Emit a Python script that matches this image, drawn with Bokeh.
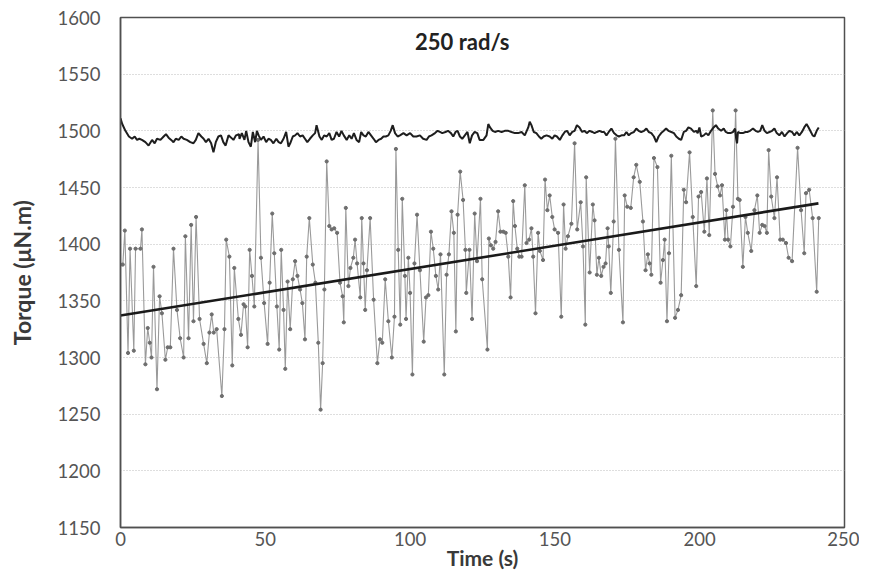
from bokeh.plotting import figure
from bokeh.models import Range1d, Label, FixedTicker
from bokeh.embed import file_html
from bokeh.resources import INLINE

# Raw torque samples (gray series): time (s), torque (uN.m)
raw_t = [0.0, 0.8, 1.5, 2.6, 3.3, 4.6, 5.2, 6.9, 7.4, 8.6, 9.4, 10.1, 10.7, 11.4, 12.6, 13.5, 14.3, 15.5, 16.3, 17.2,
         18.3, 19.5, 20.6, 21.8, 22.4, 23.5, 24.4, 25.2, 26.1, 27.3, 28.7, 29.8, 30.7, 31.5, 32.2, 33.2, 35.0, 35.9, 36.5, 37.6,
         38.6, 39.3, 40.7,
         41.6, 42.5, 43.1, 43.9, 44.6, 45.4, 46.2, 47.5, 48.5, 49.6, 50.8, 51.5, 52.4, 53.1, 54.0, 54.8, 55.5, 56.3, 56.9, 57.7,
         58.6, 59.5, 60.3, 61.1, 62.0, 62.8, 63.7, 64.3, 65.2, 66.4, 67.3, 68.3, 69.1, 69.8, 70.4, 71.2, 72.1, 72.9, 73.8, 74.8,
         75.8, 76.7, 77.1, 77.8, 78.7, 79.4, 80.4, 81.0, 81.7,
         82.8, 83.3, 83.9, 84.5, 85.1, 86.2, 87.4, 88.7, 89.6, 90.4, 91.4, 92.5, 93.7, 94.6, 95.1, 95.9, 96.6, 97.3, 98.2, 98.6,
         99.4, 100.0, 100.8, 101.5, 102.4, 103.4, 104.7, 105.5, 106.3, 107.2, 108.0, 108.9, 109.7, 110.5, 111.8, 112.6, 113.4,
         114.3, 115.1, 115.8, 116.4, 117.3, 118.3, 119.1, 119.4, 120.5, 121.4, 122.3, 123.1, 124.3, 124.9,
         126.7, 127.2, 127.9, 128.7, 129.5, 130.4, 131.2, 132.2, 133.0, 133.9, 134.7, 135.6, 136.2, 137.0, 137.7, 138.5, 139.6,
         140.2, 141.1, 141.9, 142.5, 143.3, 144.2, 144.8, 145.9, 146.6, 147.4, 148.2, 149.1, 149.9, 151.1, 152.2, 153.0, 153.7,
         154.5, 155.7, 156.8, 157.7, 158.9, 159.7, 160.5, 160.8, 162.0, 163.1, 163.7, 164.5, 165.2, 166.0, 166.8,
         167.5, 168.2, 168.6, 169.3, 170.3, 170.9, 172.1, 173.5, 174.1, 175.0, 176.2, 177.2, 178.1, 179.3, 180.4, 181.3, 182.1,
         182.7, 183.3, 184.2, 185.4, 186.5, 187.3, 187.9, 188.7, 189.4, 190.2, 191.5, 192.5, 193.6, 194.5, 195.3, 196.5, 197.6,
         198.8, 199.6, 200.5, 201.6, 202.5, 203.3, 204.5, 205.3, 206.2, 207.0, 207.7, 208.7,
         209.2, 209.8, 210.6, 211.5, 212.4, 213.2, 213.8, 214.9, 215.8, 216.6, 217.8, 218.9, 219.9, 220.7, 221.6, 222.4, 223.2,
         223.8, 224.7, 225.8, 226.7, 227.8, 228.7, 229.8, 230.7, 231.9, 233.8, 235.0, 236.1, 236.7, 237.8, 239.0, 240.4, 241.1]
raw_v = [1382, 1382, 1412, 1304, 1396, 1306, 1396, 1396, 1413, 1294, 1326, 1313, 1300, 1380, 1272, 1354, 1339, 1298, 1309, 1309,
         1396, 1342, 1317, 1300, 1407, 1317, 1417, 1332, 1424, 1334, 1312, 1295, 1322, 1338, 1322, 1325, 1266, 1325, 1404, 1389,
         1293, 1379, 1334,
         1320, 1347, 1345, 1309, 1395, 1372, 1345, 1492, 1388, 1348, 1312, 1366, 1427, 1392, 1345, 1307, 1395, 1342, 1290, 1367,
         1325, 1369, 1385, 1372, 1360, 1348, 1316, 1389, 1423, 1382, 1366, 1313, 1254, 1295, 1360, 1473, 1416, 1413, 1414, 1410,
         1366, 1354, 1331, 1432, 1363, 1379, 1388, 1404, 1383,
         1353, 1423, 1383, 1342, 1377, 1423, 1351, 1295, 1316, 1313, 1369, 1332, 1300, 1336, 1484, 1395, 1329, 1440, 1372, 1334,
         1388, 1357, 1285, 1383, 1426, 1377, 1314, 1353, 1355, 1411, 1396, 1372, 1360, 1391, 1285, 1373, 1391,
         1429, 1410, 1323, 1426, 1464, 1439, 1395, 1357, 1395, 1334, 1427, 1385, 1440, 1369,
         1307, 1405, 1399, 1396, 1402, 1429, 1411, 1411, 1410, 1389, 1353, 1438, 1416, 1396, 1389, 1389, 1452,
         1401, 1404, 1414, 1389, 1339, 1410, 1394, 1386, 1457, 1430, 1443, 1424, 1413, 1410, 1336, 1435, 1396,
         1407, 1418, 1489, 1413, 1437, 1398, 1329, 1459, 1375, 1435, 1421, 1373, 1388, 1372, 1380,
         1383, 1414, 1398, 1357, 1420, 1493, 1395, 1331, 1443, 1433, 1432, 1459, 1470, 1455, 1420, 1377, 1391,
         1383, 1373, 1476, 1468, 1366, 1386, 1404, 1332, 1392, 1478, 1335, 1342, 1355, 1448, 1437, 1481, 1424,
         1363, 1442, 1446, 1411, 1458, 1408, 1518, 1462, 1451, 1443, 1452, 1404,
         1430, 1404, 1398, 1433, 1518, 1440, 1439, 1380, 1424, 1410, 1394, 1430, 1443, 1410, 1417, 1416, 1410,
         1483, 1442, 1423, 1459, 1404, 1404, 1401, 1388, 1385, 1485, 1430, 1392, 1445, 1448, 1423, 1358, 1423]

# Upper black series
top_t = [0.0, 0.6, 1.7, 2.9, 4.0, 4.9, 5.7, 6.5, 7.4, 8.6, 9.7, 10.9, 11.8, 12.6, 13.8, 14.9, 15.7, 16.6, 17.5, 18.3,
         19.1, 20.1, 21.0, 21.8, 22.9, 24.1, 25.2, 26.0, 26.9, 27.9, 28.7, 29.5, 30.4, 31.3, 32.1, 32.9, 33.8, 34.7, 35.5,
         36.3, 37.3, 38.2, 39.0, 39.9, 40.9,
         41.1, 41.9, 42.8, 43.4, 44.2, 45.0, 45.7, 46.5, 47.1, 47.7, 48.5, 49.4, 50.3, 51.1, 51.9, 52.8, 53.8, 54.6, 55.4,
         56.3, 57.2, 58.0, 58.6, 59.5, 60.3, 61.1, 62.0, 62.9, 63.7, 64.5, 65.4, 66.4, 67.2, 67.7, 68.7, 69.5, 70.3, 71.2,
         72.1, 72.9, 73.7, 74.6, 75.5, 76.3, 77.1, 78.1, 79.0, 79.8, 80.6, 81.5, 82.4,
         83.1, 83.9, 84.7, 85.6, 86.5, 87.4, 88.2, 89.1, 90.0, 90.8, 91.6, 92.5, 93.3, 94.0, 94.8, 95.7, 96.5, 97.7, 98.8,
         100.0, 101.1, 102.2, 103.4, 104.5, 105.7, 106.5, 107.4, 108.6, 109.5, 110.3, 111.1, 112.2, 113.1, 114.1, 114.9,
         115.7, 116.4, 117.2, 118.0, 118.9, 119.8, 120.6, 121.4, 122.3, 123.2, 124.0,
         125.3, 126.4, 127.0, 127.6, 128.5, 129.3, 130.4, 131.6, 132.7, 133.9, 135.0, 136.2, 137.3, 138.5, 139.6, 140.8,
         141.3, 141.9, 142.7, 143.6, 144.5, 145.3, 146.1, 147.1, 148.2, 149.1, 149.9, 150.7, 151.7, 152.6, 153.4, 154.2,
         155.1, 156.0, 156.8, 157.6, 158.5, 159.4, 160.2, 161.0, 162.0, 162.9, 163.7, 164.5, 165.4, 166.3,
         167.0, 167.8, 168.6, 169.5, 170.4, 171.3, 172.1, 173.0, 173.9, 174.7, 175.5, 176.4, 177.3, 178.1, 178.9, 179.8,
         180.8, 181.6, 182.4, 183.3, 184.2, 185.0, 185.8, 186.7, 187.6, 188.4, 189.2, 190.2, 191.1, 191.9, 192.8, 193.6,
         194.5, 195.3, 196.1, 197.0, 198.0, 198.8, 199.3, 199.9, 200.5, 201.4, 202.2, 203.0, 203.9, 204.8, 205.6, 206.4,
         207.4, 208.3,
         209.0, 209.8, 210.6, 211.5, 212.2, 212.6, 212.9, 213.2, 214.0, 214.9, 215.8, 216.6, 217.4, 218.4, 219.3, 220.1,
         220.9, 221.6, 222.4, 223.2, 224.1, 225.0, 225.8, 226.6, 227.5, 228.4, 229.3, 230.2, 231.0, 231.9, 232.7, 233.5,
         234.4, 235.3, 236.1, 236.9, 237.6, 238.4, 239.0, 239.6, 240.4, 241.1]
top_v = [1511, 1506, 1500, 1495, 1493, 1495, 1492, 1493, 1492, 1490, 1487, 1492, 1489, 1493, 1492, 1495, 1497, 1494, 1492, 1490,
         1493, 1492, 1495, 1493, 1492, 1490, 1489, 1492, 1498, 1495, 1493, 1490, 1493, 1489, 1481, 1490, 1495, 1496, 1490,
         1487, 1496, 1494, 1492, 1496, 1497,
         1493, 1498, 1492, 1500, 1490, 1486, 1499, 1490, 1500, 1496, 1492, 1495, 1490, 1493, 1492, 1489, 1493, 1490, 1489,
         1493, 1499, 1486, 1489, 1495, 1496, 1498, 1495, 1496, 1493, 1490, 1493, 1496, 1498, 1505, 1495, 1492, 1496, 1495,
         1498, 1492, 1493, 1499, 1495, 1500, 1496, 1492, 1496, 1493, 1498, 1492, 1490,
         1499, 1496, 1495, 1499, 1496, 1493, 1490, 1492, 1493, 1495, 1495, 1496, 1500, 1505, 1498, 1495, 1496, 1498, 1496,
         1498, 1495, 1495, 1496, 1493, 1492, 1495, 1496, 1498, 1500, 1499, 1498, 1499, 1500, 1498, 1495,
         1499, 1500, 1495, 1493, 1496, 1499, 1489, 1496, 1499, 1498, 1492,
         1492, 1496, 1506, 1503, 1500, 1499, 1500, 1499, 1500, 1500, 1499, 1498, 1498, 1499, 1496, 1503,
         1508, 1505, 1499, 1498, 1495, 1493, 1495, 1496, 1495, 1493, 1496, 1495, 1492, 1496, 1499, 1500,
         1496, 1499, 1500, 1505, 1503, 1499, 1500, 1498, 1500, 1499, 1498, 1499, 1500, 1499,
         1499, 1496, 1499, 1502, 1498, 1496, 1495, 1496, 1496, 1499, 1496, 1498, 1499, 1502, 1500, 1499,
         1500, 1502, 1499, 1498, 1495, 1490, 1495, 1498, 1500, 1502, 1500, 1499, 1498, 1495, 1493, 1492,
         1499, 1500, 1503, 1502, 1499, 1500, 1498, 1503, 1495, 1496, 1498, 1496, 1500, 1503, 1505, 1502,
         1500, 1502,
         1499, 1498, 1498, 1499, 1502, 1493, 1489, 1499, 1498, 1498, 1499, 1499, 1500, 1502, 1500, 1499,
         1500, 1505, 1500, 1498, 1499, 1500, 1502, 1498, 1496, 1499, 1495, 1498, 1500, 1499, 1496, 1499,
         1496, 1499, 1503, 1506, 1503, 1499, 1496, 1495, 1500, 1503]

# Linear trend of the raw series
trend_t = [0.0, 241.0]
trend_v = [1337, 1436]

x_ticks = [0, 50, 100, 150, 200, 250]
y_ticks = [1150, 1200, 1250, 1300, 1350, 1400, 1450, 1500, 1550, 1600]

FONT = "Lato"

p = figure(width=859, height=572, x_range=Range1d(0, 250), y_range=Range1d(1150, 1600),
           output_backend="svg", toolbar_location=None,
           min_border_left=120, min_border_right=15, min_border_top=17, min_border_bottom=40)

p.background_fill_color = "white"
p.border_fill_color = "white"
p.outline_line_color = "#505050"
p.outline_line_width = 1.5

p.xgrid.grid_line_color = None
p.ygrid.grid_line_color = "#bdbdbd"
p.ygrid.grid_line_dash = "1 2"
p.ygrid.grid_line_width = 1

p.xaxis.ticker = FixedTicker(ticks=x_ticks)
p.yaxis.ticker = FixedTicker(ticks=y_ticks)
for ax in (p.xaxis, p.yaxis):
    ax.axis_line_color = "#505050"
    ax.axis_line_width = 1.5
    ax.major_tick_line_color = None
    ax.minor_tick_line_color = None
    ax.major_tick_out = 0
    ax.major_tick_in = 0
    ax.minor_tick_out = 0
    ax.minor_tick_in = 0
    ax.major_label_text_font = FONT
    ax.major_label_text_font_size = "18.5px"
    ax.major_label_text_color = "#555555"
    ax.axis_label_text_font = FONT
    ax.axis_label_text_font_style = "bold"
    ax.axis_label_text_font_size = "23px"
    ax.axis_label_text_color = "#3a3a3a"

p.xaxis.axis_label = "Time (s)"
p.xaxis.axis_label_text_font_size = "21px"
p.yaxis.axis_label = "Torque (μN.m)"
p.xaxis.major_label_standoff = 4
p.xaxis.axis_label_standoff = -4
p.yaxis.major_label_standoff = 20
p.yaxis.axis_label_standoff = 19

# raw series
p.line(raw_t, raw_v, line_color="#9a9a9a", line_width=1.1)
p.scatter(raw_t, raw_v, marker="circle", size=3.2, fill_color="#6e6e6e", line_color="#6e6e6e")

# smoothed upper series
p.line(top_t, top_v, line_color="#1e1e1e", line_width=2)

# trend
p.line(trend_t, trend_v, line_color="#1a1a1a", line_width=2.6)

# chart title inside the plot area
p.add_layout(Label(x=118, y=1579, text="250 rad/s", text_font=FONT, text_font_style="bold",
                   text_font_size="22px", text_color="#222222", text_align="center",
                   text_baseline="middle"))

open("out.html", "w").write(file_html(p, INLINE))
